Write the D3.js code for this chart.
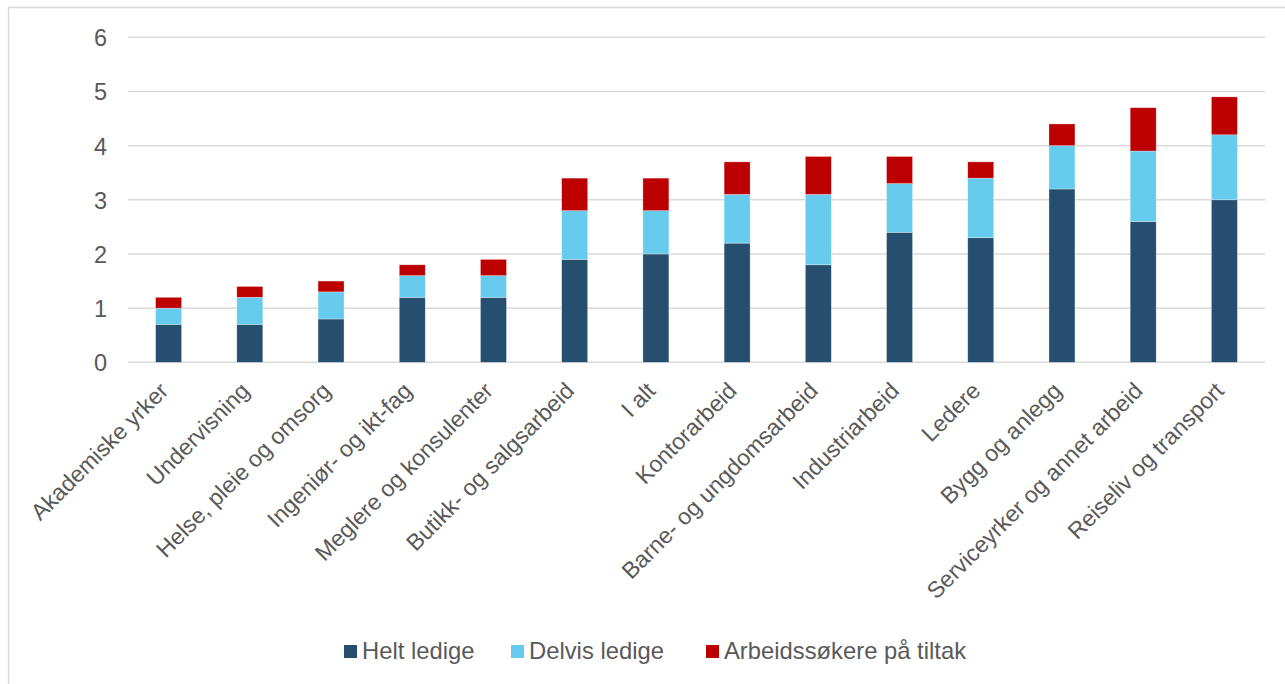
<!DOCTYPE html>
<html>
<head>
<meta charset="utf-8">
<script src="https://cdn.jsdelivr.net/npm/d3@7"></script>
<style>
  html, body { margin: 0; padding: 0; background: #fff; }
  svg { display: block; font-family: "Liberation Sans", Arial, sans-serif; }
</style>
</head>
<body>
<svg id="chart" width="1285" height="684"></svg>
<script>
const categories = ["Akademiske yrker","Undervisning","Helse, pleie og omsorg","Ingeniør- og ikt-fag","Meglere og konsulenter","Butikk- og salgsarbeid","I alt","Kontorarbeid","Barne- og ungdomsarbeid","Industriarbeid","Ledere","Bygg og anlegg","Serviceyrker og annet arbeid","Reiseliv og transport"];
const heltLedige   = [0.7, 0.7, 0.8, 1.2, 1.2, 1.9, 2.0, 2.2, 1.8, 2.4, 2.3, 3.2, 2.6, 3.0];
const delvisLedige = [0.3, 0.5, 0.5, 0.4, 0.4, 0.9, 0.8, 0.9, 1.3, 0.9, 1.1, 0.8, 1.3, 1.2];
const tiltak       = [0.2, 0.2, 0.2, 0.2, 0.3, 0.6, 0.6, 0.6, 0.7, 0.5, 0.3, 0.4, 0.8, 0.7];
const seriesNames  = ["Helt ledige", "Delvis ledige", "Arbeidssøkere på tiltak"];
const seriesColors = ["#264E6F", "#66CBED", "#BC0000"];
const yTicks = [0, 1, 2, 3, 4, 5, 6];

const svg = d3.select("#chart");
const FONT = "'Liberation Sans', Arial, sans-serif";

// frame
svg.append("rect").attr("x", 8.5).attr("y", 7.5).attr("width", 1300).attr("height", 700)
  .attr("fill", "none").attr("stroke", "#D9D9D9").attr("stroke-width", 1.5);

const x0 = 128, x1 = 1265, yTop = 37.3, yBot = 362.3;
const x = d3.scaleBand().domain(categories).range([x0, x1]).paddingInner(0.68).paddingOuter(0.34);
const y = d3.scaleLinear().domain([0, 6]).range([yBot, yTop]);

// gridlines
svg.append("g").selectAll("line").data(yTicks).join("line")
  .attr("x1", x0).attr("x2", x1)
  .attr("y1", d => y(d)).attr("y2", d => y(d))
  .attr("stroke", "#D9D9D9").attr("stroke-width", 1.5);

// y axis labels
const yAxis = d3.axisLeft(y).tickValues(yTicks).tickFormat(d3.format("d")).tickSize(0).tickPadding(0);
const gy = svg.append("g").attr("transform", `translate(107,0)`).call(yAxis);
gy.select(".domain").remove();
gy.selectAll("text").attr("fill", "#595959").style("font-size", "23.5px")
  .style("font-family", FONT).attr("dy", "0.36em");

// stacked bars
const table = categories.map((c, i) => ({cat: c, s0: heltLedige[i], s1: delvisLedige[i], s2: tiltak[i]}));
const stack = d3.stack().keys(["s0", "s1", "s2"])(table);
svg.append("g").selectAll("g").data(stack).join("g")
  .attr("fill", (d, i) => seriesColors[i])
  .selectAll("rect").data(d => d).join("rect")
  .attr("x", d => x(d.data.cat))
  .attr("width", x.bandwidth())
  .attr("y", d => y(d[1]))
  .attr("height", d => y(d[0]) - y(d[1]))
  .attr("stroke", "rgba(255,255,255,0.5)").attr("stroke-width", 0.6);

// x axis labels
const xAxis = d3.axisBottom(x).tickSize(0).tickPadding(0);
const gx = svg.append("g").attr("transform", `translate(0,${yBot})`).call(xAxis);
gx.select(".domain").remove();
gx.selectAll("text")
  .attr("fill", "#595959").style("font-size", "23px")
  .style("font-family", FONT)
  .attr("text-anchor", "end")
  .attr("dy", null)
  .attr("transform", "translate(1,30) rotate(-45)");

// legend
const legendX = [344, 511, 706];
const lg = svg.append("g");
seriesNames.forEach((n, i) => {
  lg.append("rect").attr("x", legendX[i]).attr("y", 645).attr("width", 13).attr("height", 13).attr("fill", seriesColors[i]);
  lg.append("text").attr("x", legendX[i] + 18).attr("y", 659)
    .attr("fill", "#595959").style("font-size", "23.8px").style("font-family", FONT).text(n);
});
</script>
</body>
</html>
